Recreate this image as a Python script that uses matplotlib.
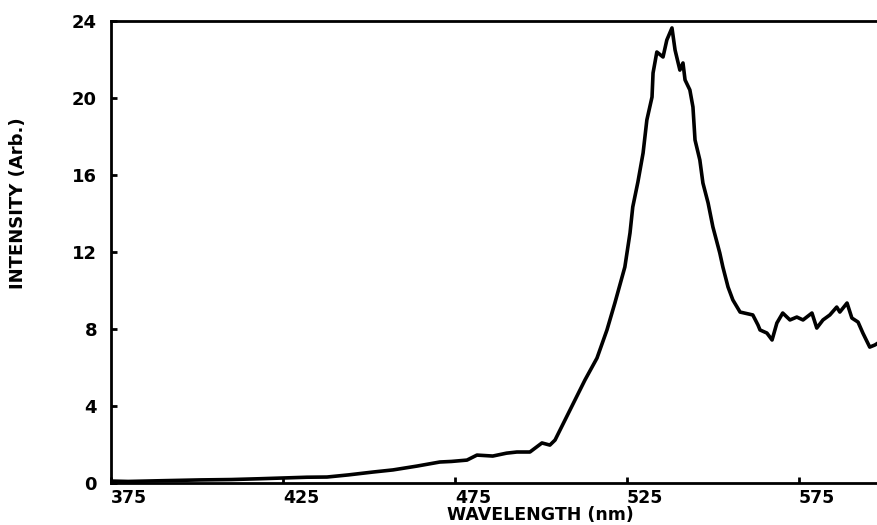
import matplotlib.pyplot as plt

# wavelength (nm) and intensity (arb.)
wavelength = [375.3, 380.0, 390.0, 400.9, 410.0, 418.0, 425.0, 432.0, 437.8, 444.0,
              451.2, 457.0, 464.0, 470.6, 474.0, 478.5, 481.4, 486.0, 490.0, 493.0,
              496.8, 500.3, 502.6, 504.1, 507.0, 509.9, 512.8, 516.3, 519.2, 521.5,
              524.4, 525.9, 526.7, 528.2, 529.7, 530.8, 532.3, 532.6, 533.7, 535.5,
              536.6, 538.1, 539.0, 540.4, 541.3, 541.9, 543.3, 544.2, 544.8, 546.2,
              547.1, 548.6, 550.0, 552.0, 552.9, 554.4, 555.8, 557.9, 561.6, 563.1,
              563.7, 565.7, 567.2, 568.6, 570.3, 572.4, 574.4, 576.2, 578.8, 580.2,
              582.0, 584.0, 586.0, 586.9, 589.0, 590.4, 592.2, 593.6, 595.6, 597.1,
              598.0]
intensity = [0.10, 0.08, 0.12, 0.16, 0.18, 0.22, 0.26, 0.30, 0.31, 0.42,
             0.57, 0.68, 0.88, 1.09, 1.12, 1.19, 1.45, 1.40, 1.55, 1.61,
             1.61, 2.08, 1.97, 2.23, 3.27, 4.31, 5.35, 6.49, 7.95, 9.35,
             11.22, 12.99, 14.34, 15.64, 17.14, 18.86, 20.05, 21.30, 22.39, 22.13,
             23.01, 23.64, 22.49, 21.45, 21.82, 20.94, 20.42, 19.53, 17.82, 16.78,
             15.58, 14.55, 13.30, 11.95, 11.22, 10.18, 9.51, 8.88, 8.73, 8.21,
             7.95, 7.79, 7.43, 8.31, 8.83, 8.47, 8.62, 8.47, 8.83, 8.05,
             8.47, 8.73, 9.14, 8.88, 9.35, 8.57, 8.36, 7.79, 7.06, 7.17,
             7.27]

x_ticks = [375, 425, 475, 525, 575]
y_ticks = [0, 4, 8, 12, 16, 20, 24]

fig = plt.figure(figsize=(8.78, 5.25), dpi=100)
ax = fig.add_axes([0.1264, 0.08, 0.8736, 0.88])

ax.plot(wavelength, intensity, color='black', linewidth=2.6)

ax.set_xlim(375, 598)
ax.set_ylim(0, 24)
ax.set_xticks(x_ticks)
ax.set_yticks(y_ticks)
ax.set_xticklabels([str(t) for t in x_ticks], ha='left', fontsize=12.5, fontweight='bold')
ax.set_yticklabels([str(t) for t in y_ticks], fontsize=13, fontweight='bold')
ax.tick_params(axis='both', direction='in', length=4, width=2)
ax.tick_params(axis='x', pad=4)
ax.tick_params(axis='y', pad=10)

ax.spines['right'].set_visible(False)
for s in ['left', 'bottom', 'top']:
    ax.spines[s].set_linewidth(2)

fig.text(0.615, 0.002, "WAVELENGTH (nm)", ha='center', va='bottom',
         fontsize=12.5, fontweight='bold')
fig.text(0.021, 0.613, "INTENSITY (Arb.)", rotation=90, ha='center', va='center',
         fontsize=13, fontweight='bold')

fig.savefig("out.png", dpi=100)
